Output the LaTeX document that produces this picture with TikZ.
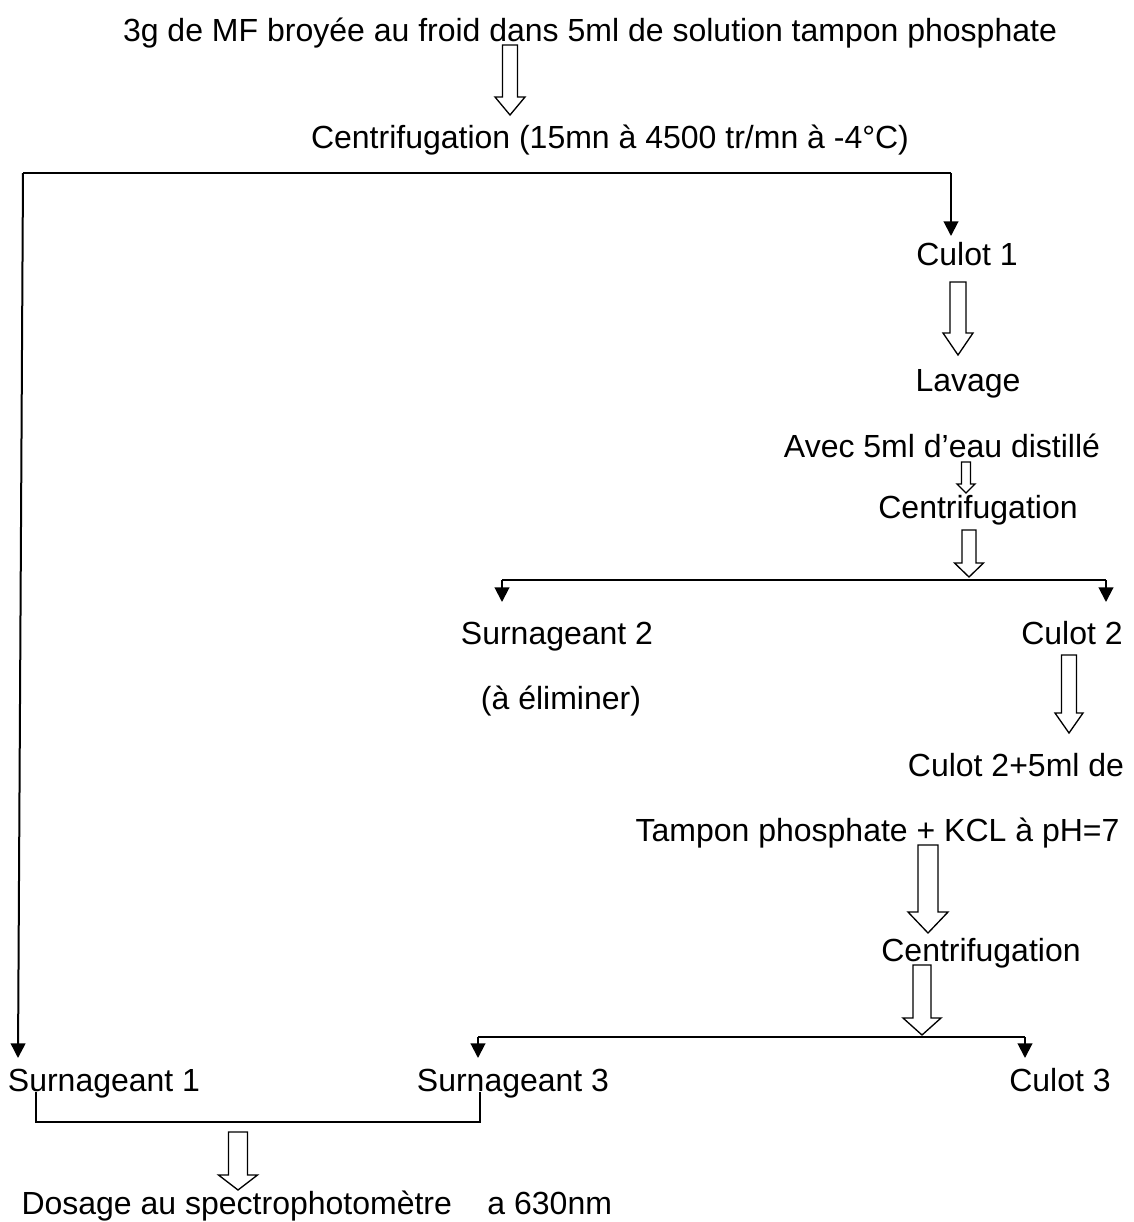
\documentclass[tikz,border=0pt]{standalone}
\usepackage{fontspec}
\setmainfont{Liberation Sans}
\usetikzlibrary{arrows.meta}

\tikzset{every picture/.style={line width=0.75pt}}
\tikzset{
  txt/.style={anchor=base,inner sep=0.75pt,font=\fontsize{24}{29}\selectfont},
  link/.style={line width=1.5pt},
  drop/.style={line width=1.5pt,-{Triangle[length=11pt,width=11pt]}},
  hollow/.style={line width=1pt,fill=white,line join=miter}
}

\begin{document}
\begin{tikzpicture}[x=0.75pt,y=0.75pt,yscale=-1,xscale=1]
\useasboundingbox (0,0) rectangle (1134,1222);

% Text Node
\node [txt] (broyat) at (590,41) {3g de MF broyée au froid dans 5ml de solution tampon phosphate};
% Text Node
\node [txt] (centrifA) at (610,148) {Centrifugation (15mn à 4500 tr/mn à -4°C)};
% Text Node
\node [txt] (culotA) at (967,265) {Culot 1};
% Text Node
\node [txt] (lavage) at (968,391) {Lavage};
% Text Node
\node [txt] (eau) at (942,457) {Avec 5ml d’eau distillé};
% Text Node
\node [txt] (centrifB) at (978,518) {Centrifugation};
% Text Node
\node [txt] (surnB) at (557,644) {Surnageant 2};
% Text Node
\node [txt] (culotB) at (1072,644) {Culot 2};
% Text Node
\node [txt] (elim) at (561,709) {(à éliminer)};
% Text Node
\node [txt] (ajoutA) at (1016,776) {Culot 2+5ml de};
% Text Node
\node [txt,anchor=base east] (ajoutB) at (1121,841) {Tampon phosphate + KCL à pH=7};
% Text Node
\node [txt] (centrifC) at (981,961) {Centrifugation};
% Text Node
\node [txt] (surnA) at (104,1091) {Surnageant 1};
% Text Node
\node [txt] (surnC) at (513,1091) {Surnageant 3};
% Text Node
\node [txt] (culotC) at (1060,1091) {Culot 3};
% Text Node
\node [txt,anchor=base west] (dosage) at (20,1214) {Dosage au spectrophotomètre \ \ \ a 630nm};

% corners of the branches
\coordinate (brA-l) at (23,173);
\coordinate (brA-r) at (951,173);
\coordinate (brA-end) at (18,1058);
\coordinate (brA-cul) at (951,236);
\coordinate (brB-l) at (502,580);
\coordinate (brB-r) at (1106,580);
\coordinate (brC-l) at (478,1037);
\coordinate (brC-r) at (1025,1037);
\coordinate (join-l) at (36,1092);
\coordinate (join-r) at (480,1092);

%Straight Lines
\draw [link] (brA-l) -- (brA-r);
\draw [drop] (brA-l) -- (brA-end);
\draw [drop] (brA-r) -- (brA-cul);
%Straight Lines
\draw [link] (brB-l) -- (brB-r);
\draw [drop] (brB-l) -- ++(0,22);
\draw [drop] (brB-r) -- ++(0,22);
%Straight Lines
\draw [link] (brC-l) -- (brC-r);
\draw [drop] (brC-l) -- ++(0,21);
\draw [drop] (brC-r) -- ++(0,21);
%Straight Lines
\draw [link] (join-l) -- ++(0,30) -| (join-r);

%Shape: Down Arrow
\draw [hollow] (502.5,45) -- (517.5,45) -- (517.5,97) -- (525,97) -- (510,115) -- (495,97) -- (502.5,97) -- cycle ;
%Shape: Down Arrow
\draw [hollow] (950,282) -- (966,282) -- (966,333) -- (973,333) -- (958,355) -- (943,333) -- (950,333) -- cycle ;
%Shape: Down Arrow
\draw [hollow] (961.5,462) -- (970.5,462) -- (970.5,484) -- (975,484) -- (966,493) -- (957,484) -- (961.5,484) -- cycle ;
%Shape: Down Arrow
\draw [hollow] (962,530) -- (976,530) -- (976,563) -- (983.5,563) -- (969,577) -- (954.5,563) -- (962,563) -- cycle ;
%Shape: Down Arrow
\draw [hollow] (1061.5,655) -- (1076.5,655) -- (1076.5,713) -- (1083,713) -- (1069,733) -- (1055,713) -- (1061.5,713) -- cycle ;
%Shape: Down Arrow
\draw [hollow] (918,845) -- (938,845) -- (938,912) -- (948,912) -- (928,933) -- (908,912) -- (918,912) -- cycle ;
%Shape: Down Arrow
\draw [hollow] (913,965) -- (931,965) -- (931,1018) -- (941,1018) -- (922,1035) -- (903,1018) -- (913,1018) -- cycle ;
%Shape: Down Arrow
\draw [hollow] (228.5,1132) -- (247.5,1132) -- (247.5,1175) -- (257.5,1175) -- (238,1190) -- (218.5,1175) -- (228.5,1175) -- cycle ;

\end{tikzpicture}
\end{document}
